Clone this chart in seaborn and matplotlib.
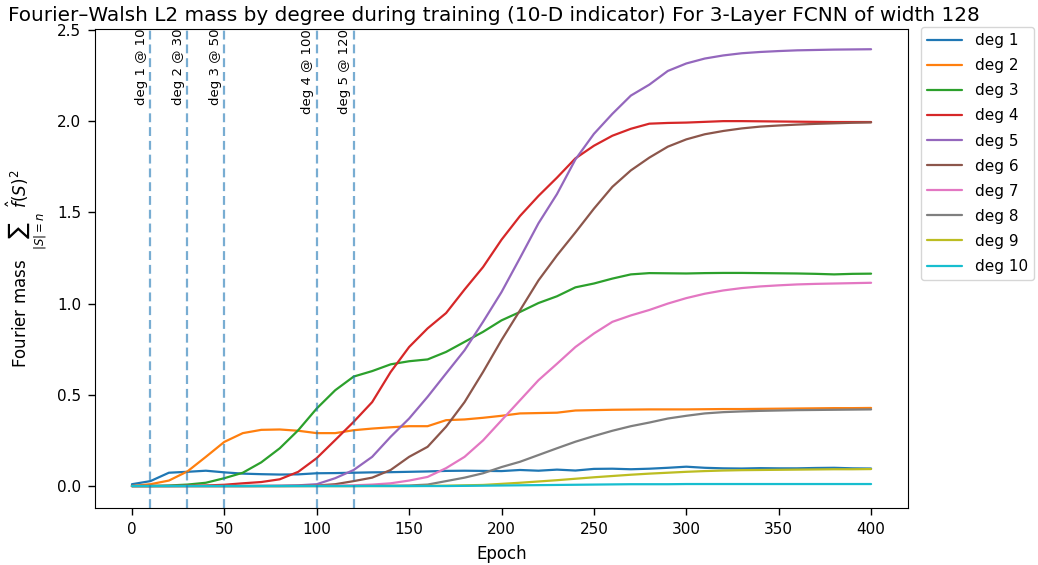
import numpy as np
import pandas as pd
import matplotlib
matplotlib.use("Agg")
import matplotlib.pyplot as plt
import seaborn as sns

epochs = list(range(0, 401, 10))

deg1 = [0.01, 0.027, 0.073, 0.078, 0.084, 0.075, 0.068, 0.065, 0.063, 0.064, 0.07, 0.071, 0.073, 0.075,
        0.076, 0.078, 0.08, 0.083, 0.084, 0.083, 0.082, 0.088, 0.084, 0.09, 0.085, 0.094, 0.095, 0.092,
        0.095, 0.1, 0.106, 0.1, 0.097, 0.096, 0.098, 0.097, 0.097, 0.099, 0.1, 0.097, 0.096]
deg2 = [0.0, 0.01, 0.03, 0.08, 0.16, 0.242, 0.29, 0.308, 0.31, 0.303, 0.29, 0.29, 0.306, 0.315,
        0.322, 0.328, 0.328, 0.361, 0.365, 0.374, 0.385, 0.398, 0.4, 0.402, 0.414, 0.416, 0.418, 0.419,
        0.42, 0.42, 0.42, 0.421, 0.422, 0.422, 0.423, 0.424, 0.425, 0.426, 0.427, 0.427, 0.428]
deg3 = [0.0, 0.0, 0.003, 0.008, 0.018, 0.043, 0.073, 0.13, 0.207, 0.306, 0.425, 0.525, 0.6, 0.63,
        0.667, 0.684, 0.694, 0.735, 0.79, 0.845, 0.908, 0.954, 1.003, 1.04, 1.089, 1.11, 1.137, 1.16,
        1.167, 1.166, 1.165, 1.167, 1.168, 1.168, 1.167, 1.166, 1.165, 1.163, 1.16, 1.163, 1.164]
deg4 = [0.0, 0.0, 0.0, 0.001, 0.003, 0.007, 0.015, 0.022, 0.037, 0.078, 0.153, 0.252, 0.352, 0.46,
        0.625, 0.762, 0.864, 0.948, 1.077, 1.2, 1.35, 1.48, 1.59, 1.69, 1.796, 1.865, 1.92, 1.958,
        1.986, 1.99, 1.992, 1.996, 2.0, 2.0, 1.999, 1.998, 1.997, 1.996, 1.995, 1.995, 1.995]
deg5 = [0.0, 0.0, 0.0, 0.0, 0.0, 0.0, 0.0, 0.001, 0.002, 0.004, 0.01, 0.043, 0.088, 0.16,
        0.27, 0.37, 0.489, 0.617, 0.744, 0.9, 1.063, 1.25, 1.44, 1.6, 1.79, 1.93, 2.04, 2.14,
        2.2, 2.275, 2.316, 2.343, 2.36, 2.372, 2.379, 2.384, 2.388, 2.39, 2.392, 2.393, 2.394]
deg6 = [0.0, 0.0, 0.0, 0.0, 0.0, 0.0, 0.0, 0.0, 0.0, 0.001, 0.003, 0.01, 0.027, 0.046,
        0.088, 0.16, 0.215, 0.325, 0.46, 0.625, 0.8, 0.963, 1.127, 1.264, 1.39, 1.52, 1.64, 1.73,
        1.8, 1.86, 1.9, 1.928, 1.946, 1.96, 1.97, 1.976, 1.981, 1.985, 1.988, 1.991, 1.993]
deg7 = [0.0, 0.0, 0.0, 0.0, 0.0, 0.0, 0.0, 0.0, 0.0, 0.0, 0.001, 0.002, 0.004, 0.008,
        0.015, 0.03, 0.05, 0.098, 0.16, 0.25, 0.36, 0.47, 0.58, 0.67, 0.762, 0.836, 0.9, 0.935,
        0.965, 1.0, 1.03, 1.054, 1.072, 1.085, 1.094, 1.1, 1.105, 1.108, 1.11, 1.112, 1.114]
deg8 = [0.0, 0.0, 0.0, 0.0, 0.0, 0.0, 0.0, 0.0, 0.0, 0.0, 0.0, 0.0, 0.0, 0.001,
        0.002, 0.003, 0.008, 0.027, 0.046, 0.07, 0.104, 0.133, 0.17, 0.207, 0.243, 0.274, 0.303, 0.328,
        0.348, 0.37, 0.385, 0.398, 0.405, 0.409, 0.412, 0.414, 0.416, 0.417, 0.418, 0.419, 0.42]
deg9 = [0.0, 0.0, 0.0, 0.0, 0.0, 0.0, 0.0, 0.0, 0.0, 0.0, 0.0, 0.0, 0.0, 0.0,
        0.0, 0.0, 0.001, 0.002, 0.004, 0.006, 0.012, 0.018, 0.025, 0.032, 0.04, 0.048, 0.055, 0.062,
        0.068, 0.073, 0.078, 0.082, 0.085, 0.087, 0.088, 0.089, 0.09, 0.091, 0.092, 0.092, 0.093]
deg10 = [0.0, 0.0, 0.0, 0.0, 0.0, 0.0, 0.0, 0.0, 0.0, 0.0, 0.0, 0.0, 0.0, 0.0,
         0.0, 0.0, 0.0, 0.0, 0.001, 0.002, 0.003, 0.004, 0.005, 0.006, 0.007, 0.008, 0.009, 0.01,
         0.01, 0.01, 0.011, 0.011, 0.011, 0.011, 0.011, 0.011, 0.011, 0.011, 0.011, 0.011, 0.011]

series = [deg1, deg2, deg3, deg4, deg5, deg6, deg7, deg8, deg9, deg10]
labels = [f"deg {i}" for i in range(1, 11)]

# degree switch markers
mark_degrees = [1, 2, 3, 4, 5]
mark_epochs = [10, 30, 50, 100, 120]

rows = []
for lab, vals in zip(labels, series):
    for e, v in zip(epochs, vals):
        rows.append({"epoch": e, "mass": v, "degree": lab})
df = pd.DataFrame(rows)

sns.set_style("ticks")
plt.rcParams["font.family"] = ["DejaVu Sans"]
plt.rcParams.update({"text.color": "black", "axes.labelcolor": "black",
                     "xtick.color": "black", "ytick.color": "black"})

fig = plt.figure(figsize=(10.38, 5.65), dpi=100)
ax = fig.add_axes([0.0915, 0.101, 0.7833, 0.8477])

sns.lineplot(data=df, x="epoch", y="mass", hue="degree", palette="tab10", ax=ax, linewidth=1.6)

for d, e in zip(mark_degrees, mark_epochs):
    ax.axvline(e, linestyle="--", color="#1f77b4", alpha=0.6, linewidth=1.6, dashes=(4, 2.2))
    ax.text(e - 1.5, 2.505, f"deg {d} @ {e}", rotation=90, va="top", ha="right", fontsize=9.5)

ax.set_xlim(-20, 420)
ax.set_ylim(-0.12, 2.505)
ax.set_xticks(range(0, 401, 50))
ax.set_yticks([0.0, 0.5, 1.0, 1.5, 2.0, 2.5])
ax.tick_params(labelsize=11, length=5, width=1, pad=5, colors="black")
ax.set_xlabel("Epoch", fontsize=12, labelpad=6)
ax.set_ylabel(r"Fourier mass  $\sum_{|S|=n}\ \hat{f}(S)^2$", fontsize=12, labelpad=6)
ax.set_title("Fourier\u2013Walsh L2 mass by degree during training (10-D indicator) For 3-Layer FCNN of width 128",
             fontsize=14.4, x=0.49)
for s in ax.spines.values():
    s.set_visible(True)
    s.set_color("black")
leg = ax.legend(loc="upper left", bbox_to_anchor=(1.016, 1.004), borderaxespad=0, fontsize=11,
                handlelength=2.3, labelspacing=0.66)
for t in leg.get_texts():
    t.set_color("black")

fig.savefig("out.png", dpi=100)
